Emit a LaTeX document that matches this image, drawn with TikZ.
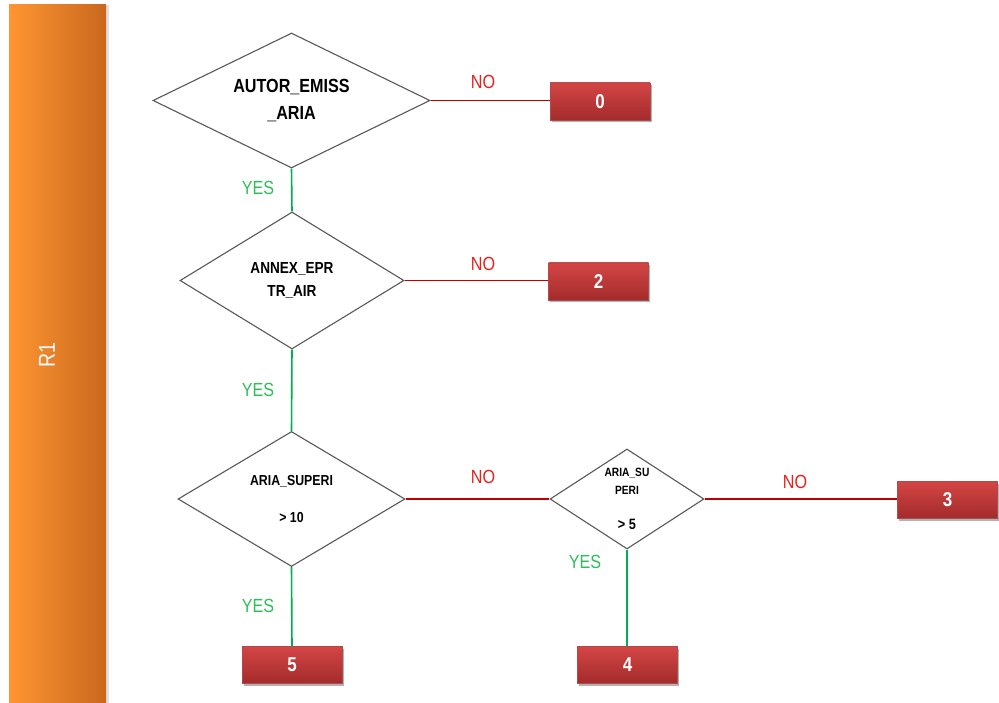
\documentclass[tikz,border=0pt]{standalone}
\usepackage{fontspec}
\setmainfont{Liberation Sans}[FakeStretch=0.85]
\usetikzlibrary{shapes.geometric,shadows}
\definecolor{barL}{HTML}{FF9632}
\definecolor{barR}{HTML}{C9681E}
\definecolor{boxT}{HTML}{D44545}
\definecolor{boxB}{HTML}{A32B2B}
\definecolor{noRed}{HTML}{C00000}
\definecolor{noTxt}{HTML}{E8201A}
\definecolor{yesG}{HTML}{00B050}
\definecolor{yesTxt}{HTML}{2DBE5A}
\begin{document}
\begin{tikzpicture}[x=1pt,y=-1pt,
 dec/.style={diamond, draw=black!65, line width=1.1pt, inner sep=0pt, align=center},
 res/.style={draw=boxB!85, top color=boxT, bottom color=boxB, minimum width=100pt, minimum height=37pt, inner sep=0pt, text=white, font=\bfseries\fontsize{20}{22}\selectfont, drop shadow={shadow xshift=1.5pt, shadow yshift=-2.5pt, opacity=0.3, fill=black}},
 nol/.style={draw=noRed, line width=1.5pt},
 yesl/.style={draw=yesG, line width=1.6pt},
 notxt/.style={text=noTxt, font=\fontsize{19}{22}\selectfont, inner sep=0pt},
 yestxt/.style={text=yesTxt, font=\fontsize{19}{22}\selectfont, inner sep=0pt}
]
\useasboundingbox[fill=white] (0,0) rectangle (999,703);
% side bar
\fill[black!12] (106,5) rectangle (108.5,703);
\node[left color=barL, right color=barR, minimum width=97pt, minimum height=698pt, inner sep=0pt, draw=none] (bar) at (57.5,354) {};
\node[text=white, rotate=90, font=\fontsize{23}{26}\selectfont, inner sep=0pt] (r1) at (47,355) {R1};

% decisions
\node[dec, minimum width=277pt, minimum height=135pt, aspect=2.05, font=\bfseries\fontsize{19}{27}\selectfont] (d1) at (291.5,100.5) {AUTOR\_EMISS\\\_ARIA};
\node[dec, minimum width=224pt, minimum height=137pt, aspect=1.63, font=\bfseries\fontsize{16}{23}\selectfont] (d2) at (292,280.5) {ANNEX\_EPR\\TR\_AIR};
\node[dec, minimum width=227pt, minimum height=135pt, aspect=1.68, font=\bfseries\fontsize{14.5}{37}\selectfont] (d3) at (291.5,499) {ARIA\_SUPERI\\{}> 10};
\node[dec, minimum width=154pt, minimum height=100pt, aspect=1.54, font=\bfseries\fontsize{12}{18}\selectfont] (d4) at (627,499) {ARIA\_SU\\PERI\\[17pt]{\fontsize{15}{18}\selectfont > 5}};

% results
\node[res] (b0) at (600,101.5) {0};
\node[res] (b2) at (598.5,281.5) {2};
\node[res] (b3) at (947.5,500) {3};
\node[res] (b5) at (292,665) {5};
\node[res] (b4) at (627.5,665) {4};

% connectors
\draw[nol] (d1.east) -- (d1.east -| b0.west);
\draw[nol] (d2.east) -- (d2.east -| b2.west);
\draw[nol] (d3.east) -- (d4.west);
\draw[nol] (d4.east) -- (d4.east -| b3.west);
\draw[yesl] (d1.south) -- (d2.north);
\draw[yesl] (d2.south) -- (d3.north);
\draw[yesl] (d3.south) -- (b5.north);
\draw[yesl] (d4.south) -- (d4.south |- b4.north);

% labels
\node[notxt] (n1) at (483,82) {NO};
\node[notxt] (n2) at (483,264) {NO};
\node[notxt] (n3) at (483,477) {NO};
\node[notxt] (n4) at (795,482) {NO};
\node[yestxt] (y1) at (258,188) {YES};
\node[yestxt] (y2) at (258,390) {YES};
\node[yestxt] (y3) at (258,606) {YES};
\node[yestxt] (y4) at (585,562) {YES};
\end{tikzpicture}
\end{document}
